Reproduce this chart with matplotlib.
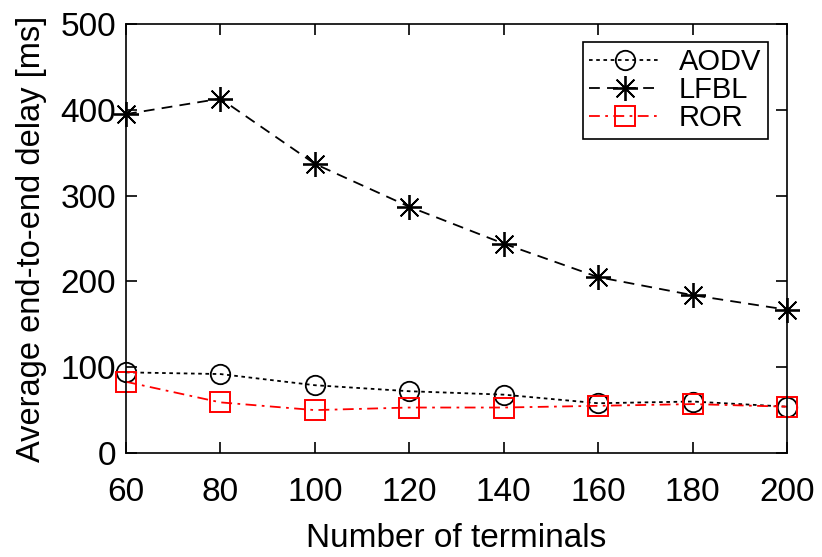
import matplotlib.pyplot as plt

plt.rcParams["font.family"] = ["Liberation Sans", "DejaVu Sans"]

terminals = [60, 80, 100, 120, 140, 160, 180, 200]
aodv = [94, 92, 79, 72, 68, 58, 60, 54]
lfbl = [395, 413, 337, 287, 244, 205, 184, 167]
ror = [83, 59, 50, 53, 53, 55, 57, 54]

x_ticks = [60, 80, 100, 120, 140, 160, 180, 200]
y_ticks = [0, 100, 200, 300, 400, 500]


def main() -> None:
    fig = plt.figure(figsize=(8.22, 5.57), dpi=100)
    ax = fig.add_axes([126 / 822, 1 - 453 / 557, 661 / 822, 429 / 557])

    ax.plot(terminals, aodv, color="black", linestyle=(0, (2, 2)), linewidth=1.3,
            marker="o", markersize=14, markerfacecolor="none",
            markeredgewidth=1.3, label="AODV", clip_on=False)
    ax.plot(terminals, lfbl, color="black", linestyle=(0, (6, 4)), linewidth=1.3,
            marker=(8, 2, 0), markersize=18, markeredgewidth=1.3,
            label="LFBL", clip_on=False)
    ax.plot(terminals, ror, color="red", linestyle=(0, (6, 3, 1.5, 3)), linewidth=1.3,
            marker="s", markersize=14, markerfacecolor="none",
            markeredgewidth=1.4, label="ROR", clip_on=False)

    ax.set_xlim(60, 200)
    ax.set_ylim(0, 500)
    ax.set_xticks(x_ticks)
    ax.set_yticks(y_ticks)
    ax.tick_params(direction="in", length=8, width=1.2, labelsize=24,
                   top=True, right=True)
    ax.tick_params(axis="x", pad=17)
    ax.tick_params(axis="y", pad=7)
    for spine in ax.spines.values():
        spine.set_linewidth(1.2)

    ax.set_xlabel("Number of terminals", fontsize=24, labelpad=11)
    ax.set_ylabel("Average end-to-end delay [ms]", fontsize=23.5, labelpad=10)

    leg = ax.legend(loc="upper right", bbox_to_anchor=(0.971, 0.958),
                    fontsize=21, frameon=True, fancybox=False,
                    edgecolor="black", framealpha=1, handlelength=2.45,
                    handletextpad=0.62, labelspacing=0.0, borderpad=0.22,
                    borderaxespad=0)
    leg.get_frame().set_linewidth(1.2)

    fig.savefig("out.png", dpi=100)
    plt.close(fig)


if __name__ == "__main__":
    main()
